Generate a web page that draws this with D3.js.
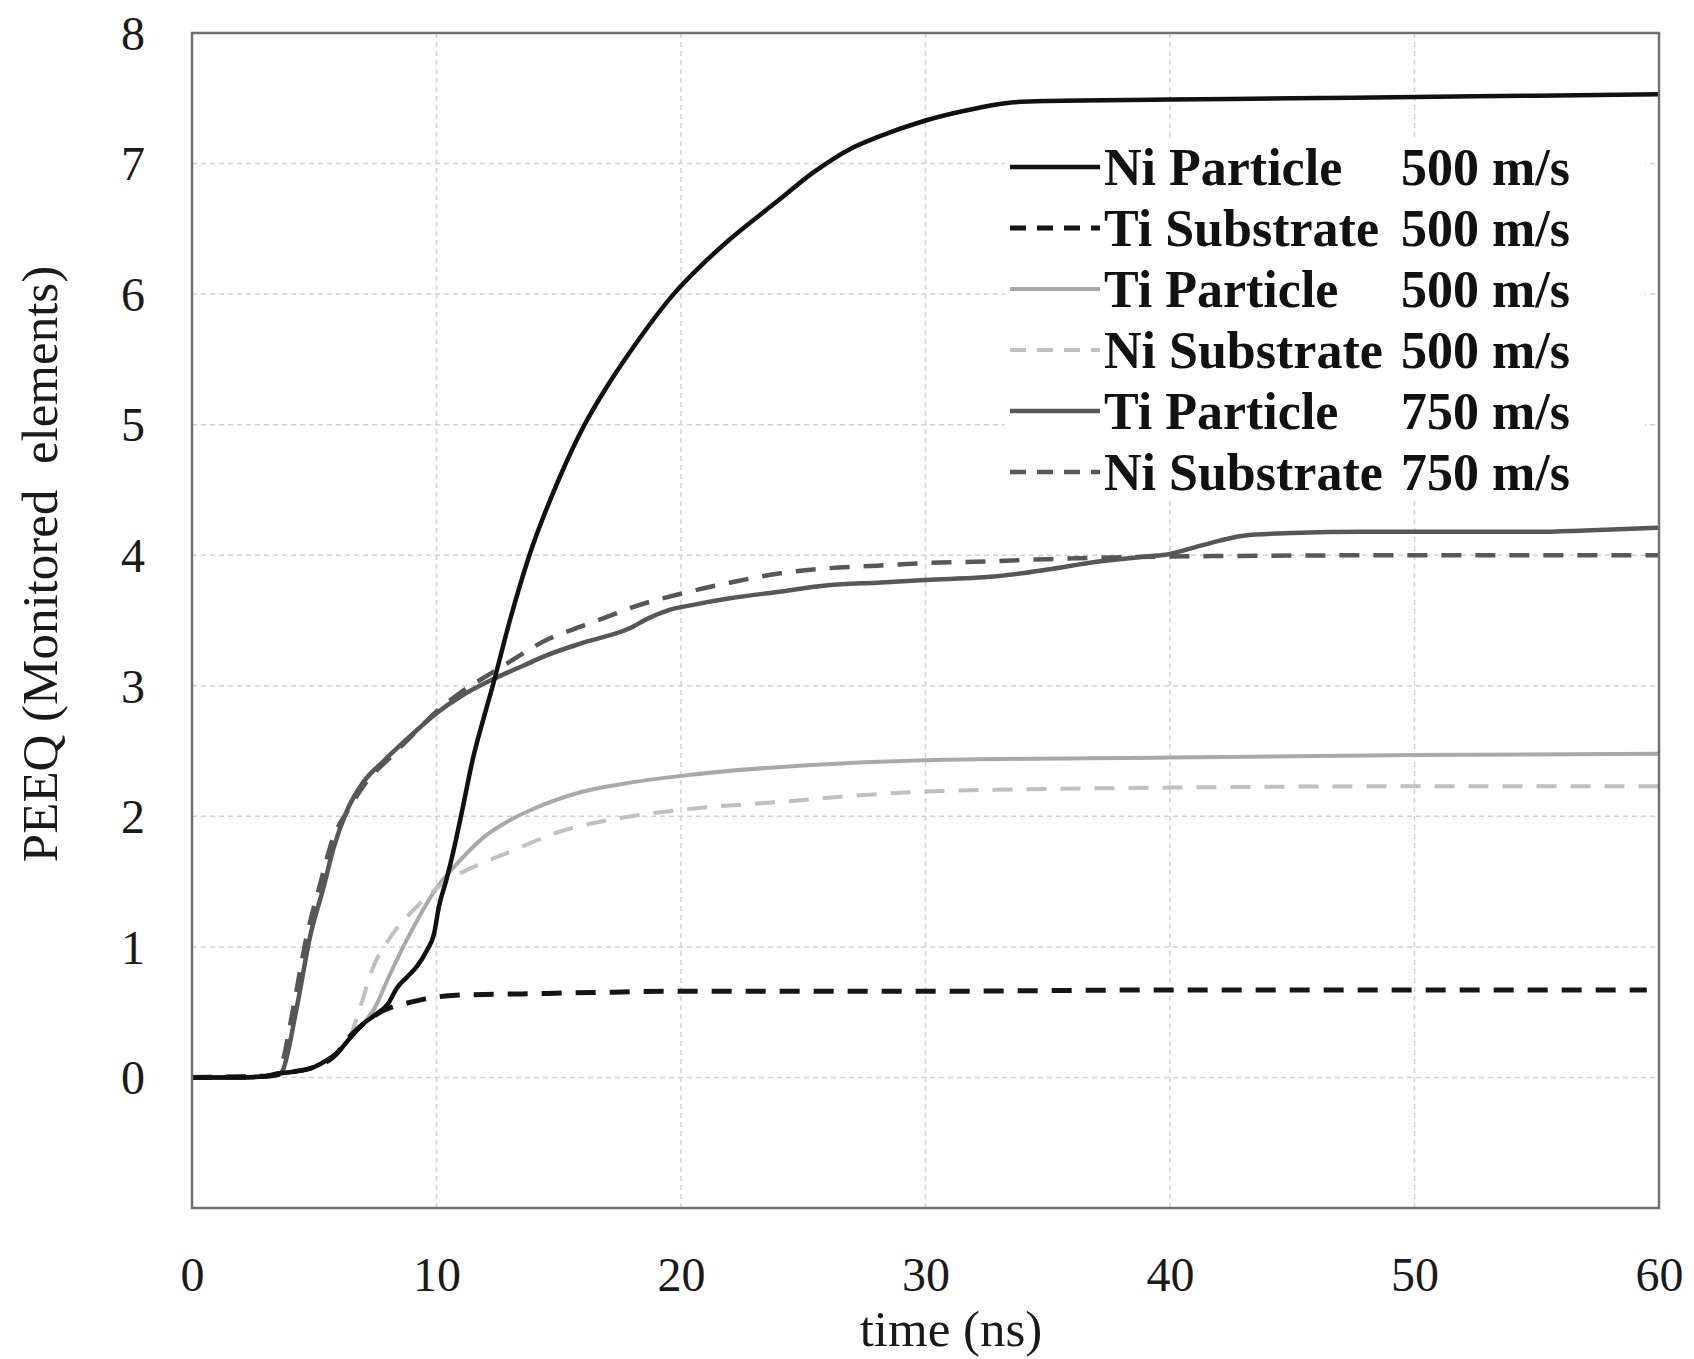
<!DOCTYPE html>
<html>
<head>
<meta charset="utf-8">
<script src="https://cdn.jsdelivr.net/npm/d3@7"></script>
<style>
    body { margin: 0; background: #ffffff; }
    svg { display: block; font-family: "Liberation Serif", "Times New Roman", serif; }
</style>
</head>
<body>
<svg id="peeq-chart"></svg>
<script>
/*--------------------------------------------------------------------------------
----- PEEQ OF MONITORED ELEMENTS OVER TIME
--------------------------------------------------------------------------------*/

// Time samples (ns) and PEEQ values read for every curve
const ni_particle_500_t = [0, 2, 3, 3.5, 4, 5, 5.5, 6, 6.5, 7, 7.5, 8, 8.4, 8.8, 9.2, 9.6, 9.9, 10.1, 10.4, 10.7, 11, 11.5, 12, 12.3, 13, 13.8, 15, 16, 17, 18, 19.7, 21, 22, 24, 25.4, 27, 28, 30, 32, 33.6, 35, 40, 45, 50, 55, 60];
const ni_particle_500_v = [0, 0, 0.01, 0.03, 0.04, 0.08, 0.13, 0.2, 0.31, 0.41, 0.48, 0.56, 0.69, 0.77, 0.85, 0.97, 1.1, 1.31, 1.51, 1.74, 2.0, 2.45, 2.8, 3.0, 3.5, 4.0, 4.58, 4.98, 5.3, 5.58, 6.0, 6.25, 6.42, 6.72, 6.93, 7.12, 7.2, 7.33, 7.42, 7.47, 7.48, 7.49, 7.5, 7.51, 7.52, 7.53];

const ti_substrate_500_t = [0, 3, 4, 5, 6, 6.3, 6.7, 7.3, 7.8, 8.2, 8.6, 9.5, 10.8, 13.5, 16.3, 20, 30, 40, 50, 59.5];
const ti_substrate_500_v = [0, 0.01, 0.04, 0.08, 0.2, 0.28, 0.36, 0.45, 0.51, 0.54, 0.56, 0.6, 0.63, 0.64, 0.65, 0.66, 0.66, 0.67, 0.67, 0.67];

const ti_particle_500_t = [0, 2, 3, 4, 5, 5.5, 6, 6.5, 7, 7.5, 8, 9, 10, 11, 12, 13, 14, 16, 18, 20, 25, 30, 40, 50, 60];
const ti_particle_500_v = [0, 0, 0.01, 0.04, 0.08, 0.13, 0.2, 0.31, 0.41, 0.54, 0.75, 1.13, 1.45, 1.67, 1.85, 1.97, 2.06, 2.19, 2.26, 2.31, 2.39, 2.43, 2.45, 2.47, 2.48];

const ni_substrate_500_t = [0, 3, 4, 5, 6, 6.5, 6.9, 7.4, 8.1, 9.2, 10.3, 11.6, 12.9, 15, 17, 20, 24, 28, 30, 40, 50, 60];
const ni_substrate_500_v = [0, 0.01, 0.04, 0.08, 0.2, 0.33, 0.55, 0.84, 1.07, 1.31, 1.49, 1.62, 1.72, 1.88, 1.97, 2.05, 2.11, 2.17, 2.19, 2.22, 2.23, 2.23];

const ti_particle_750_t = [0, 2, 3, 3.5, 3.67, 4.29, 4.83, 5.37, 5.78, 6.33, 7.0, 7.82, 8.9, 10, 11, 12.3, 13.5, 14.6, 16, 17.9, 18.7, 19.5, 20.5, 22, 24, 26, 28, 30, 33, 35, 37, 39, 40, 41, 42, 43, 45, 48, 52, 55, 57, 60];
const ti_particle_750_v = [0, 0, 0.01, 0.02, 0.04, 0.54, 1.08, 1.45, 1.75, 2.04, 2.26, 2.42, 2.61, 2.79, 2.92, 3.05, 3.15, 3.24, 3.33, 3.44, 3.52, 3.58, 3.62, 3.67, 3.72, 3.77, 3.79, 3.81, 3.84, 3.89, 3.95, 3.99, 4.01, 4.06, 4.11, 4.15, 4.17, 4.18, 4.18, 4.18, 4.19, 4.21];

const ni_substrate_750_t = [0, 2, 3, 3.5, 3.67, 4.15, 4.69, 5.24, 5.71, 6.46, 7.2, 8.1, 9, 10.1, 11, 12.45, 14.6, 16, 17.3, 18, 20.1, 22, 24, 26, 28, 30, 32, 35, 40, 50, 60];
const ni_substrate_750_v = [0, 0, 0.01, 0.03, 0.1, 0.54, 1.08, 1.48, 1.8, 2.07, 2.28, 2.45, 2.62, 2.82, 2.95, 3.12, 3.36, 3.46, 3.55, 3.6, 3.71, 3.79, 3.86, 3.9, 3.92, 3.94, 3.95, 3.97, 3.99, 4.0, 4.0];

// Legend names and speeds, in legend order
const series_names = ["Ni Particle", "Ti Substrate", "Ti Particle", "Ni Substrate", "Ti Particle", "Ni Substrate"];
const series_speeds = ["500 m/s", "500 m/s", "500 m/s", "500 m/s", "750 m/s", "750 m/s"];

// Axis ticks
const x_ticks = [0, 10, 20, 30, 40, 50, 60];
const y_ticks = [0, 1, 2, 3, 4, 5, 6, 7, 8];

// Build the series list (legend order), with the drawing style of each
const series_styles = [
    { color: "#111111", width: 4.5, dash: null },
    { color: "#151515", width: 5, dash: "20,14" },
    { color: "#a9a9a9", width: 4, dash: null },
    { color: "#c0c0c0", width: 4, dash: "20,14" },
    { color: "#575757", width: 4.5, dash: null },
    { color: "#575757", width: 4.5, dash: "20,14" }
];
const series_t = [ni_particle_500_t, ti_substrate_500_t, ti_particle_500_t, ni_substrate_500_t, ti_particle_750_t, ni_substrate_750_t];
const series_v = [ni_particle_500_v, ti_substrate_500_v, ti_particle_500_v, ni_substrate_500_v, ti_particle_750_v, ni_substrate_750_v];
const series = series_names.map((name, i) => ({
    name: name,
    speed: series_speeds[i],
    style: series_styles[i],
    points: series_t[i].map((t, j) => ({ t: t, v: series_v[i][j] }))
}));

// Dimensions of the chart
const chart_width_total = 1694, chart_height_total = 1359;
const margins = { top: 33, right: 35, bottom: 151, left: 192 };
const inner_width = chart_width_total - margins.left - margins.right;
const inner_height = chart_height_total - margins.top - margins.bottom;

// Scales
const x_scale = d3.scaleLinear().domain([0, 60]).range([0, inner_width]);
const y_scale = d3.scaleLinear().domain([-1, 8]).range([inner_height, 0]);

// Main svg container
const svg = d3.select("#peeq-chart")
    .attr("width", chart_width_total)
    .attr("height", chart_height_total);

const chart = svg.append("g")
    .attr("transform", `translate(${margins.left}, ${margins.top})`);

// Dashed gridlines
chart.append("g")
    .selectAll("line")
    .data(x_ticks.filter(d => d > 0 && d < 60))
    .enter()
    .append("line")
    .attr("x1", d => x_scale(d)).attr("x2", d => x_scale(d))
    .attr("y1", 0).attr("y2", inner_height)
    .attr("stroke", "#d2d2d2").attr("stroke-width", 1.5).attr("stroke-dasharray", "5,4");

chart.append("g")
    .selectAll("line")
    .data(y_ticks.filter(d => d < 8))
    .enter()
    .append("line")
    .attr("x1", 0).attr("x2", inner_width)
    .attr("y1", d => y_scale(d)).attr("y2", d => y_scale(d))
    .attr("stroke", "#d2d2d2").attr("stroke-width", 1.5).attr("stroke-dasharray", "5,4");

// X axis labels
const x_axis = chart.append("g")
    .attr("transform", `translate(0, ${inner_height})`)
    .call(d3.axisBottom(x_scale).tickValues(x_ticks).tickSize(0).tickFormat(d3.format("d")));
x_axis.select(".domain").remove();
x_axis.selectAll("text")
    .attr("y", 83).attr("dy", null)
    .style("font-size", "48px").style("fill", "#1a1a1a")
    .style("font-family", "'Liberation Serif', serif");

// Y axis labels
const y_axis = chart.append("g")
    .call(d3.axisLeft(y_scale).tickValues(y_ticks).tickSize(0).tickPadding(47).tickFormat(d3.format("d")));
y_axis.select(".domain").remove();
y_axis.selectAll("text")
    .attr("dy", "0.34em")
    .style("font-size", "48px").style("fill", "#1a1a1a")
    .style("font-family", "'Liberation Serif', serif");

// Curves, light ones first so the black curves stay on top
const line_gen = d3.line()
    .x(d => x_scale(d.t))
    .y(d => y_scale(d.v))
    .curve(d3.curveMonotoneX);

const draw_order = [2, 3, 5, 4, 1, 0];
chart.append("g")
    .selectAll("path")
    .data(draw_order.map(i => series[i]))
    .enter()
    .append("path")
    .attr("d", d => line_gen(d.points))
    .attr("fill", "none")
    .attr("stroke", d => d.style.color)
    .attr("stroke-width", d => d.style.width)
    .attr("stroke-dasharray", d => d.style.dash)
    .attr("stroke-linejoin", "round");

// Plot frame
chart.append("rect")
    .attr("x", 0).attr("y", 0)
    .attr("width", inner_width).attr("height", inner_height)
    .attr("fill", "none").attr("stroke", "#707070").attr("stroke-width", 2.5);

// Legend with a white box hiding the grid behind it
const legend = svg.append("g")
    .attr("transform", "translate(1005, 167)");
legend.append("rect")
    .attr("x", 0).attr("y", -28)
    .attr("width", 640).attr("height", 360)
    .attr("fill", "#ffffff");

const legend_rows = legend.selectAll(".legend-row")
    .data(series)
    .enter()
    .append("g")
    .attr("class", "legend-row")
    .attr("transform", (d, i) => `translate(0, ${i * 61})`);

legend_rows.append("line")
    .attr("x1", 5).attr("x2", 95)
    .attr("y1", 0).attr("y2", 0)
    .attr("stroke", d => d.style.color)
    .attr("stroke-width", d => d.style.width)
    .attr("stroke-dasharray", d => d.style.dash ? "16,11" : null);

legend_rows.append("text")
    .attr("x", 99).attr("y", 0).attr("dy", "0.34em")
    .text(d => d.name)
    .style("font-size", "52px").style("font-weight", "bold").style("fill", "#111");

legend_rows.append("text")
    .attr("x", 396).attr("y", 0).attr("dy", "0.34em")
    .text(d => d.speed)
    .style("font-size", "52px").style("font-weight", "bold").style("fill", "#111");

// Axis titles
svg.append("text")
    .attr("x", 951).attr("y", 1346)
    .attr("text-anchor", "middle")
    .text("time (ns)")
    .style("font-size", "51px").style("fill", "#1a1a1a");

svg.append("text")
    .attr("transform", "translate(57, 564) rotate(-90)")
    .attr("text-anchor", "middle")
    .attr("xml:space", "preserve")
    .text("PEEQ (Monitored  elements)")
    .style("font-size", "51px").style("fill", "#1a1a1a")
    .style("white-space", "pre");
</script>
</body>
</html>
